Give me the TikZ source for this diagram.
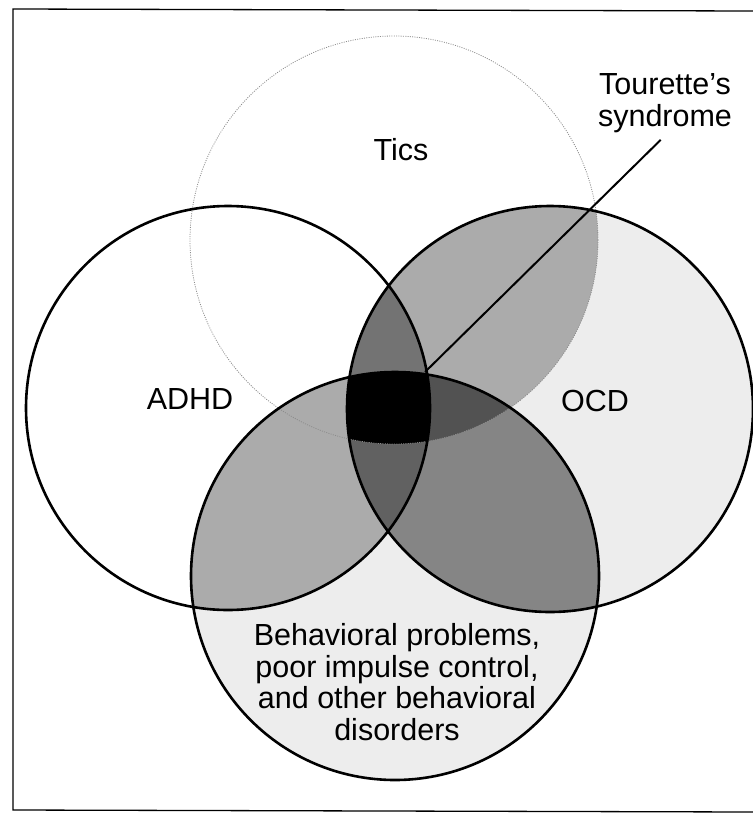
\documentclass[tikz,border=0pt]{standalone}
\usepackage{fontspec}
\setmainfont{Liberation Sans}
\begin{document}
\begin{tikzpicture}[x=1pt,y=-1pt,
  ring/.style={draw=black, line width=2.6pt},
  ticring/.style={draw=black!45, line width=0.8pt, dash pattern=on 1pt off 1.3pt},
  lbl/.style={inner sep=0pt, font=\fontsize{30.5}{31.5}\selectfont, align=center},
  frameline/.style={line width=1.3pt},
  pointer/.style={line width=2pt},
  lightfill/.style={fill=black!7},
  medfill/.style={fill=black!33}]
\useasboundingbox (0,0) rectangle (753,820);
\def\ticsP{(394,240) circle [radius=204pt]}
\def\adhdP{(228,408) circle [radius=202pt]}
\def\ocdP{(550,409) circle [radius=203pt]}
\def\behP{(395,576) circle [radius=204pt]}
% frame
\draw[frameline] (753,11) -- (13,9) -- (13,810) -- (753,812);
% shading
\fill[lightfill] \ocdP;
\fill[lightfill] \behP;
\begin{scope}\clip \adhdP; \fill[medfill] \behP; \end{scope}
\begin{scope}\clip \ticsP; \fill[medfill] \ocdP; \end{scope}
\begin{scope}\clip \ocdP; \fill[black!48] \behP; \end{scope}
\begin{scope}\clip \ticsP; \clip \adhdP; \fill[black!55] \ocdP; \end{scope}
\begin{scope}\clip \adhdP; \clip \ocdP; \fill[black!62] \behP; \end{scope}
\begin{scope}\clip \ticsP; \clip \ocdP; \fill[black!68] \behP; \end{scope}
\begin{scope}\clip \ticsP; \clip \adhdP; \clip \ocdP; \fill[black] \behP; \end{scope}
% outlines
\draw[ticring] \ticsP;
\draw[ring] \adhdP;
\draw[ring] \ocdP;
\draw[ring] \behP;
% labels
\node[lbl] (tics) at (401,150) {Tics};
\node[lbl] (adhd) at (190,399) {ADHD};
\node[lbl] (ocd) at (595,401) {OCD};
\node[lbl] (beh) at (397,682) {Behavioral problems,\\poor impulse control,\\and other behavioral\\disorders};
\node[lbl, inner sep=3pt] (tour) at (665,103) {Tourette's\\syndrome};
\coordinate (core) at (425,372);
\draw[pointer, shorten <=6pt] (tour.south) -- (core);
\end{tikzpicture}
\end{document}
